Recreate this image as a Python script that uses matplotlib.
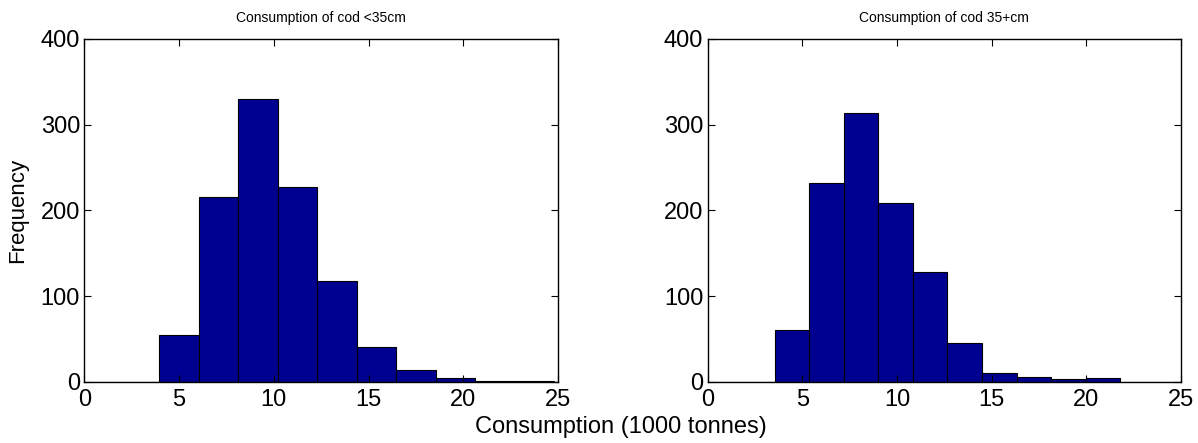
import matplotlib.pyplot as plt

plt.rcParams['font.family'] = ['Liberation Sans', 'DejaVu Sans']

# histogram bins (left edge of first bin, bin width, counts)
small_start = 3.96
small_width = 2.084
small_counts = [55, 216, 330, 227, 117, 40, 14, 4, 1, 1]

large_start = 3.54
large_width = 1.826
large_counts = [60, 232, 314, 208, 128, 45, 10, 5, 3, 4]

titles = ['Consumption of cod <35cm', 'Consumption of cod 35+cm']
bar_color = '#000090'

fig = plt.figure(figsize=(11.98, 4.43), dpi=100)
ax1 = fig.add_axes([0.0703, 0.1384, 0.3955, 0.7736])
ax2 = fig.add_axes([0.5906, 0.1384, 0.3952, 0.7736])

for ax, start, width, counts, title in [
        (ax1, small_start, small_width, small_counts, titles[0]),
        (ax2, large_start, large_width, large_counts, titles[1])]:
    lefts = [start + i * width for i in range(len(counts))]
    ax.bar(lefts, counts, width=width, align='edge', color=bar_color,
           edgecolor='black', linewidth=0.8)
    # empty zero line before the first bin, like matlab draws it
    ax.plot([0, 25], [0, 0], color='black', linewidth=0.8)
    ax.set_xlim(0, 25)
    ax.set_ylim(0, 400)
    ax.set_xticks([0, 5, 10, 15, 20, 25])
    ax.set_yticks([0, 100, 200, 300, 400])
    ax.tick_params(direction='in', top=True, right=True, labelsize=17,
                   length=5, width=0.8)
    ax.tick_params(axis='y', pad=3)
    ax.tick_params(axis='x', pad=5)
    ax.set_title(title, fontsize=10, pad=12)
    for s in ax.spines.values():
        s.set_linewidth(1.0)

ax1.set_ylabel('Frequency', fontsize=16, labelpad=9)
fig.text(0.518, 0.036, 'Consumption (1000 tonnes)', ha='center', va='center',
         fontsize=17)

fig.savefig('out.png', dpi=100)
